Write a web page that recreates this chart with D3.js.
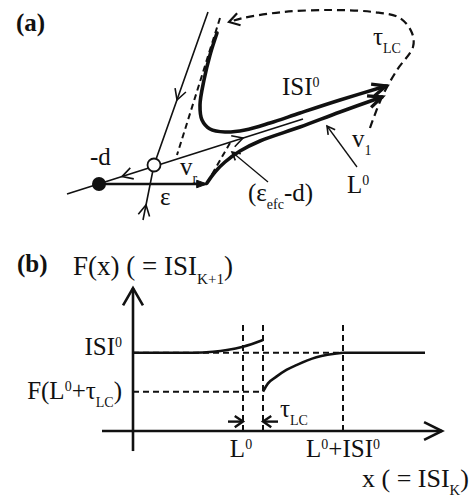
<!DOCTYPE html>
<html>
<head>
<meta charset="utf-8">
<script src="https://cdn.jsdelivr.net/npm/d3@7"></script>
<style>
  html, body { margin: 0; padding: 0; background: #fff; }
  svg { display: block; }
  text { font-family: "Liberation Serif", "Times New Roman", serif; fill: #111; }
</style>
</head>
<body>
<svg id="chart" width="470" height="497"></svg>
<script>
// ===== Panel (a): phase plane, in plane units with the saddle at the origin =====
const saddlePoint = [0, 0];
const nodePoint = [-2.75, -0.95];
const unstableManifold = [[-4.35, -1.45], [7.45, 2.3]];
const stableUpper = [[2.7, 7.65], [0, 0]];
const stableLower = [[-0.55, -2.75], [0, 0]];
const kickEps = [[-2.75, -0.95], [2.65, -0.95]];
const trajISI0 = [[3.15, 6.6], [2.8, 5.5], [2.5, 4.25], [2.3, 3.0], [2.4, 2.25], [2.8, 1.8],
                  [3.55, 1.65], [4.55, 1.75], [5.8, 2.1], [7.3, 2.6], [9.3, 3.25], [11.6, 3.95]];
const trajL0 = [[2.65, -0.9], [3.05, -0.35], [3.55, 0.15], [4.3, 0.7], [5.3, 1.2],
                [7.3, 1.9], [9.3, 2.65], [11.4, 3.4]];
const projUpper = [[3.3, 7.35], [1.15, 0.5]];
const projLower = [[3.8, 1.1], [2.65, -0.9]];
const returnTauLC = [[10.8, 1.85], [11.4, 3.4], [12.15, 4.75], [12.95, 5.9], [12.9, 6.6], [12.3, 7.35],
                     [10.95, 7.65], [8.95, 7.75], [6.45, 7.65], [4.45, 7.35], [3.75, 7.15]];
const pointerEfc = [[5.7, -0.85], [3.9, 0.65]];
const pointerL0 = [[10.15, -0.1], [8.65, 1.95]];
// flow-direction marks on the manifolds: [tip, towards-from point]
const flowMarks = [
  { tip: [1.15, 3.25], from: [2.7, 7.65] },
  { tip: [-0.4, -2.0], from: [-0.55, -2.75] },
  { tip: [-1.6, -0.58], from: [0, -0.07] },
  { tip: [4.45, 1.35], from: [0, -0.07] }
];

// ===== Panel (b): return map F(x) =====
const isi0 = 5, L0 = 5.5, tauLC = 1, fAfterJump = 2.5;
const branchBefore = [[0, 5], [3, 5], [4, 5.06], [4.7, 5.17], [5.5, 5.38], [6.5, 5.81]];
const branchAfter = [[6.5, 2.51], [6.75, 3.04], [7.17, 3.47], [7.67, 3.9], [8.17, 4.21],
                     [9.17, 4.71], [10.5, 5.0]];
const branchFlat = [[10.5, 5.0], [14.6, 5.0]];
const xAxisExtent = [-1.55, 15.45];
const yAxisExtent = [-1.28, 9.13];
const guideTop = 6.9;

const INK = "#111";
const svg = d3.select("#chart");

// scales
const xA = d3.scaleLinear().domain([-5, 13]).range([54, 414]);
const yA = d3.scaleLinear().domain([-3, 8]).range([225, 5]);
const xB = d3.scaleLinear().domain([0, 15]).range([133, 433]);
const yB = d3.scaleLinear().domain([0, 5]).range([431, 352.7]);

const pA = d => [xA(d[0]), yA(d[1])];
const pB = d => [xB(d[0]), yB(d[1])];

function head(g, tip, from, len, ang, sw, filled) {
  const a = Math.atan2(tip[1] - from[1], tip[0] - from[0]);
  const p1 = [tip[0] - len * Math.cos(a - ang), tip[1] - len * Math.sin(a - ang)];
  const p2 = [tip[0] - len * Math.cos(a + ang), tip[1] - len * Math.sin(a + ang)];
  g.append("path")
    .attr("d", `M${p1}L${tip}L${p2}` + (filled ? "Z" : ""))
    .attr("fill", filled ? INK : "none")
    .attr("stroke", INK)
    .attr("stroke-width", sw)
    .attr("stroke-linejoin", "miter")
    .attr("stroke-linecap", "butt");
}

function rich(g, x, y, parts, opts = {}) {
  const size = opts.size || 25;
  const t = g.append("text")
    .attr("x", x).attr("y", y)
    .attr("font-size", size)
    .attr("font-weight", opts.bold ? "bold" : "normal")
    .attr("text-anchor", opts.anchor || "start");
  let shift = 0;
  parts.forEach(p => {
    const target = p.sup ? -0.34 * size : p.sub ? 0.32 * size : 0;
    const ts = t.append("tspan").attr("dy", target - shift).text(p.t);
    if (p.sup || p.sub) ts.attr("font-size", size * 0.56);
    shift = target;
  });
  return t;
}

// ---------------- Panel (a) ----------------
const ga = svg.append("g");
const lineA = d3.line().x(d => xA(d[0])).y(d => yA(d[1]));
const curveA = d3.line().x(d => xA(d[0])).y(d => yA(d[1])).curve(d3.curveCatmullRom.alpha(0.5));

// dashed projections and return path
[projUpper, projLower].forEach(seg => {
  ga.append("path").attr("d", lineA(seg)).attr("fill", "none")
    .attr("stroke", INK).attr("stroke-width", 2).attr("stroke-dasharray", "6,4");
});
ga.append("path").attr("d", curveA(returnTauLC)).attr("fill", "none")
  .attr("stroke", INK).attr("stroke-width", 2.2).attr("stroke-dasharray", "8,5");
{
  const n = returnTauLC.length;
  head(ga, pA(returnTauLC[n - 1]), pA(returnTauLC[n - 2]), 12, 0.55, 2.2, false);
}

// manifolds
ga.append("path").attr("d", lineA(unstableManifold)).attr("fill", "none")
  .attr("stroke", INK).attr("stroke-width", 1.6);
ga.append("path").attr("d", lineA([stableUpper[0], saddlePoint, stableLower[0]])).attr("fill", "none")
  .attr("stroke", INK).attr("stroke-width", 1.6);
flowMarks.forEach(m => head(ga, pA(m.tip), pA(m.from), 12, 0.5, 1.6, false));

// pointers
[pointerEfc, pointerL0].forEach(seg => {
  ga.append("path").attr("d", lineA(seg)).attr("fill", "none")
    .attr("stroke", INK).attr("stroke-width", 1.3);
  head(ga, pA(seg[1]), pA(seg[0]), 9, 0.5, 1.6, false);
});

// kick epsilon
ga.append("path").attr("d", lineA(kickEps)).attr("fill", "none")
  .attr("stroke", INK).attr("stroke-width", 2.6);
head(ga, pA(kickEps[1]), pA(kickEps[0]), 11, 0.35, 1, true);

// trajectories
[trajISI0, trajL0].forEach(tr => {
  ga.append("path").attr("d", curveA(tr)).attr("fill", "none")
    .attr("stroke", INK).attr("stroke-width", 3.6).attr("stroke-linecap", "round");
  const n = tr.length;
  head(ga, pA(tr[n - 1]), pA(tr[n - 2]), 15, 0.42, 3.4, false);
});

// fixed points
ga.append("circle").attr("cx", xA(nodePoint[0])).attr("cy", yA(nodePoint[1])).attr("r", 7)
  .attr("fill", INK);
ga.append("circle").attr("cx", xA(saddlePoint[0])).attr("cy", yA(saddlePoint[1])).attr("r", 6.5)
  .attr("fill", "#fff").attr("stroke", INK).attr("stroke-width", 1.8);

// labels
rich(ga, 16, 31, [{ t: "(a)" }], { bold: true });
rich(ga, 90, 165, [{ t: "-d" }]);
rich(ga, 160, 205, [{ t: "ε" }]);
rich(ga, 180, 175, [{ t: "v" }, { t: "r", sub: true }]);
rich(ga, 282, 95, [{ t: "ISI" }, { t: "0", sup: true }]);
rich(ga, 373, 45, [{ t: "τ" }, { t: "LC", sub: true }]);
rich(ga, 352, 147, [{ t: "v" }, { t: "1", sub: true }]);
rich(ga, 347, 193, [{ t: "L" }, { t: "0", sup: true }]);
rich(ga, 248, 201, [{ t: "(ε" }, { t: "efc", sub: true }, { t: "-d)" }]);

// ---------------- Panel (b) ----------------
const gb = svg.append("g");
const lineB = d3.line().x(d => xB(d[0])).y(d => yB(d[1]));
const curveB = d3.line().x(d => xB(d[0])).y(d => yB(d[1])).curve(d3.curveMonotoneX);
const dash = "6,4";

// guides
[L0, L0 + tauLC, L0 + isi0].forEach(u => {
  gb.append("path").attr("d", lineB([[u, 0], [u, guideTop]])).attr("fill", "none")
    .attr("stroke", INK).attr("stroke-width", 2).attr("stroke-dasharray", dash);
});
gb.append("path").attr("d", lineB([[0, isi0], [L0 + isi0, isi0]])).attr("fill", "none")
  .attr("stroke", INK).attr("stroke-width", 2).attr("stroke-dasharray", dash);
gb.append("path").attr("d", lineB([[0, fAfterJump], [L0 + tauLC, fAfterJump]])).attr("fill", "none")
  .attr("stroke", INK).attr("stroke-width", 2).attr("stroke-dasharray", dash);

// axes
gb.append("path").attr("d", lineB([[xAxisExtent[0], 0], [xAxisExtent[1], 0]]))
  .attr("stroke", INK).attr("stroke-width", 2.6).attr("fill", "none");
head(gb, pB([xAxisExtent[1], 0]), pB([0, 0]), 20, 0.46, 2.6, false);
gb.append("path").attr("d", lineB([[0, yAxisExtent[0]], [0, yAxisExtent[1]]]))
  .attr("stroke", INK).attr("stroke-width", 2.6).attr("fill", "none");
head(gb, pB([0, yAxisExtent[1]]), pB([0, 0]), 20, 0.52, 2.6, false);

// map branches
[branchBefore, branchAfter, branchFlat].forEach(br => {
  gb.append("path").attr("d", curveB(br)).attr("fill", "none")
    .attr("stroke", INK).attr("stroke-width", 2.6);
});

// tauLC markers
const markW = 0.6;
gb.append("path").attr("d", lineB([[L0 - 0.75, markW], [L0, markW]]))
  .attr("stroke", INK).attr("stroke-width", 2.4).attr("fill", "none");
head(gb, pB([L0, markW]), pB([L0 - 0.75, markW]), 10, 0.6, 2.4, false);
gb.append("path").attr("d", lineB([[L0 + tauLC + 0.75, markW], [L0 + tauLC, markW]]))
  .attr("stroke", INK).attr("stroke-width", 2.4).attr("fill", "none");
head(gb, pB([L0 + tauLC, markW]), pB([L0 + tauLC + 0.75, markW]), 10, 0.6, 2.4, false);

// labels
rich(gb, 17, 272, [{ t: "(b)" }], { bold: true });
rich(gb, 73, 275, [{ t: "F(x) ( = ISI" }, { t: "K+1", sub: true }, { t: ")" }], { size: 27 });
rich(gb, 122, yB(isi0) + 2.5, [{ t: "ISI" }, { t: "0", sup: true }], { anchor: "end" });
rich(gb, 122, yB(fAfterJump) + 7.5, [{ t: "F(L" }, { t: "0", sup: true }, { t: "+τ" }, { t: "LC", sub: true }, { t: ")" }], { anchor: "end" });
rich(gb, xB(L0) - 2, 457, [{ t: "L" }, { t: "0", sup: true }], { anchor: "middle" });
rich(gb, xB(L0 + isi0), 457, [{ t: "L" }, { t: "0", sup: true }, { t: "+ISI" }, { t: "0", sup: true }], { anchor: "middle" });
rich(gb, 280, 417, [{ t: "τ" }, { t: "LC", sub: true }]);
rich(gb, 362, 487, [{ t: "x ( = ISI" }, { t: "K", sub: true }, { t: ")" }], { size: 26 });
</script>
</body>
</html>
